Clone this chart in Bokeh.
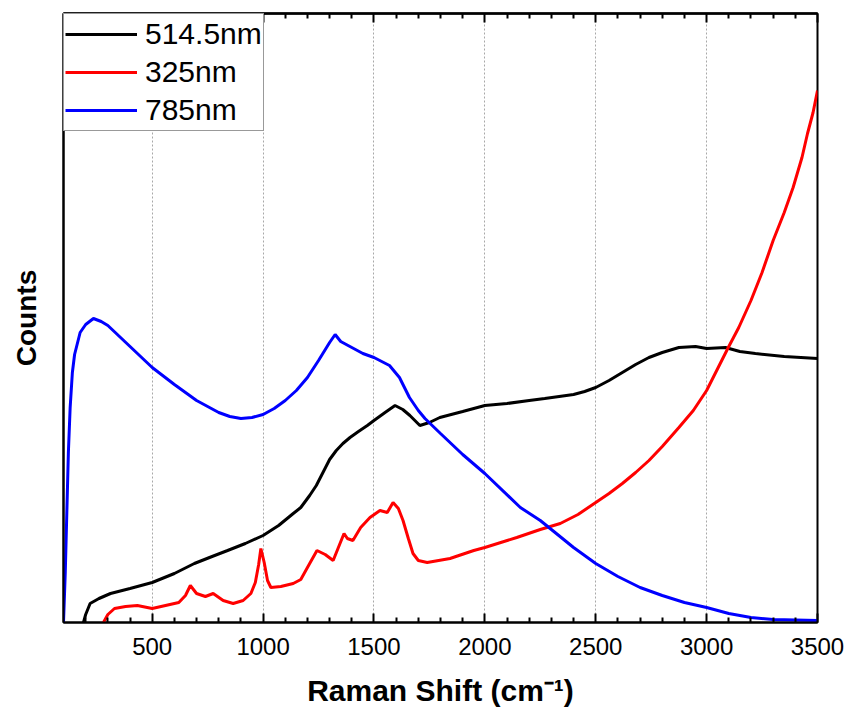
from bokeh.plotting import figure
from bokeh.models import Range1d, FixedTicker, LinearAxis
from bokeh.embed import file_html
from bokeh.resources import INLINE

# ---- data (arbitrary count units) ----
x_514 = [190, 200, 220, 260, 312, 400, 500, 600, 690, 770, 840, 920, 1000, 1070, 1136,
         1170, 1210, 1240, 1270, 1300, 1330, 1360, 1392, 1430, 1470, 1500, 1550, 1595,
         1630, 1662, 1707, 1750, 1797, 1900, 2000, 2100, 2200, 2270, 2400, 2450, 2500,
         2560, 2620, 2680, 2740, 2800, 2875, 2950, 3000, 3085, 3150, 3220, 3350, 3500]
y_514 = [0, 8, 19, 24, 29, 34, 40, 49, 59, 66, 72, 79, 87, 97, 109,
         115, 127, 137, 150, 163, 172, 179, 185, 191, 197, 202, 210, 217,
         213, 207, 197, 200, 205, 211, 217, 219, 222, 224, 228, 231, 235,
         242, 250, 258, 265, 270, 275, 276, 274, 275, 271, 269, 266, 264]

x_325 = [280, 300, 330, 380, 433, 500, 560, 620, 650, 672, 700, 740, 775, 820, 865, 910,
         945, 965, 980, 990, 1005, 1020, 1035, 1080, 1136, 1170, 1200, 1243, 1280, 1316,
         1345, 1365, 1380, 1405, 1440, 1482, 1527, 1560, 1586, 1610, 1631, 1655, 1676,
         1700, 1740, 1843, 1950, 2000, 2144, 2250, 2340, 2420, 2500, 2560, 2620, 2680,
         2740, 2800, 2875, 2940, 3000, 3050, 3100, 3145, 3200, 3250, 3300, 3350, 3390,
         3430, 3455, 3480, 3500]
y_325 = [0, 8, 14, 16, 17, 14, 17, 20, 27, 37, 29, 26, 29, 22, 19, 22,
         29, 40, 58, 74, 60, 42, 35, 36, 39, 43, 55, 72, 68, 62,
         78, 89, 84, 82, 95, 105, 112, 110, 120, 114, 102, 84, 69,
         62, 60, 64, 72, 75, 85, 93, 99, 108, 120, 129, 139, 150,
         162, 176, 195, 212, 232, 254, 276, 295, 322, 350, 382, 410, 435,
         465, 489, 510, 532]

x_785 = [100, 108, 115, 122, 130, 140, 150, 175, 200, 235, 270, 300, 400, 500, 600, 700,
         800, 850, 900, 950, 1000, 1050, 1100, 1150, 1200, 1250, 1300, 1325, 1350, 1400,
         1450, 1500, 1570, 1615, 1660, 1700, 1730, 1800, 1900, 2000, 2160, 2250, 2300,
         2400, 2500, 2600, 2700, 2800, 2900, 3000, 3100, 3200, 3300, 3500]
y_785 = [0, 50, 110, 170, 215, 250, 268, 290, 298, 304, 301, 297, 276, 255, 238, 222,
         210, 206, 204, 205, 208, 214, 222, 232, 245, 262, 280, 288, 281, 275,
         269, 265, 257, 245, 225, 212, 204, 189, 168, 149, 115, 102, 93,
         75, 59, 46, 35, 27, 20, 15, 9, 5, 3, 2]

series_names = ["514.5nm", "325nm", "785nm"]
x_major_ticks = [500, 1000, 1500, 2000, 2500, 3000, 3500]
x_minor_ticks = [v for v in range(200, 3500, 100) if v % 500 != 0]

FONT = "Liberation Sans"

p = figure(width=850, height=717, output_backend="svg", toolbar_location=None,
           x_range=Range1d(100, 3500), y_range=Range1d(0, 609),
           min_border_left=63, min_border_right=33, min_border_top=13,
           min_border_bottom=95, background_fill_color="white",
           border_fill_color="white")

p.outline_line_color = "black"
p.outline_line_width = 2

# bottom axis
xa = p.xaxis[0]
xa.ticker = FixedTicker(ticks=x_major_ticks, minor_ticks=x_minor_ticks)
xa.axis_label = "Raman Shift (cm\u207b\u00b9)"
xa.axis_label_text_font = FONT
xa.axis_label_text_font_style = "bold"
xa.axis_label_text_font_size = "30px"
xa.axis_label_text_color = "black"
xa.axis_label_standoff = 16
xa.major_label_text_font = FONT
xa.major_label_text_font_size = "24px"
xa.major_label_text_color = "black"
xa.major_label_standoff = 15
xa.major_tick_in = 9
xa.major_tick_out = 0
xa.minor_tick_in = 5
xa.minor_tick_out = 0
xa.major_tick_line_width = 2
xa.minor_tick_line_width = 2
xa.axis_line_width = 2
xa.axis_line_color = "black"

# top axes: ticks only (drawn as unlabeled ticks of two lengths)
for ticks, length in ((x_minor_ticks, 5), (x_major_ticks, 9)):
    ax = LinearAxis(ticker=FixedTicker(ticks=[], minor_ticks=ticks))
    ax.minor_tick_in = length
    ax.minor_tick_out = 0
    ax.minor_tick_line_width = 2
    ax.minor_tick_line_color = "black"
    ax.major_tick_in = 0
    ax.major_tick_out = 0
    ax.axis_line_width = 2
    ax.major_label_standoff = 0
    p.add_layout(ax, "above")

# left axis: label only
ya = p.yaxis[0]
ya.ticker = FixedTicker(ticks=[])
ya.axis_label = "Counts"
ya.axis_label_text_font = FONT
ya.axis_label_text_font_style = "bold"
ya.axis_label_text_font_size = "28px"
ya.axis_label_text_color = "black"
ya.axis_label_standoff = 22
ya.major_tick_line_color = None
ya.minor_tick_line_color = None
ya.axis_line_width = 2

p.xgrid.ticker = FixedTicker(ticks=x_major_ticks)
p.xgrid.grid_line_color = "#a8a8a8"
p.xgrid.grid_line_dash = "2 2"
p.xgrid.grid_line_width = 1
p.ygrid.grid_line_color = None

p.line(x_514, y_514, line_color="#000000", line_width=3, legend_label=series_names[0])
p.line(x_325, y_325, line_color="#ff0000", line_width=3, legend_label=series_names[1])
p.line(x_785, y_785, line_color="#0000ff", line_width=3, legend_label=series_names[2])

lg = p.legend[0]
lg.location = "top_left"
lg.margin = 0
lg.padding = 1
lg.spacing = 0
lg.label_text_font = FONT
lg.label_text_font_size = "30px"
lg.label_text_color = "black"
lg.glyph_width = 72
lg.glyph_height = 38
lg.label_height = 38
lg.label_standoff = 8
lg.border_line_color = "#333333"
lg.border_line_width = 1
lg.background_fill_color = "white"
lg.background_fill_alpha = 1.0

open("out.html", "w").write(file_html(p, INLINE))
